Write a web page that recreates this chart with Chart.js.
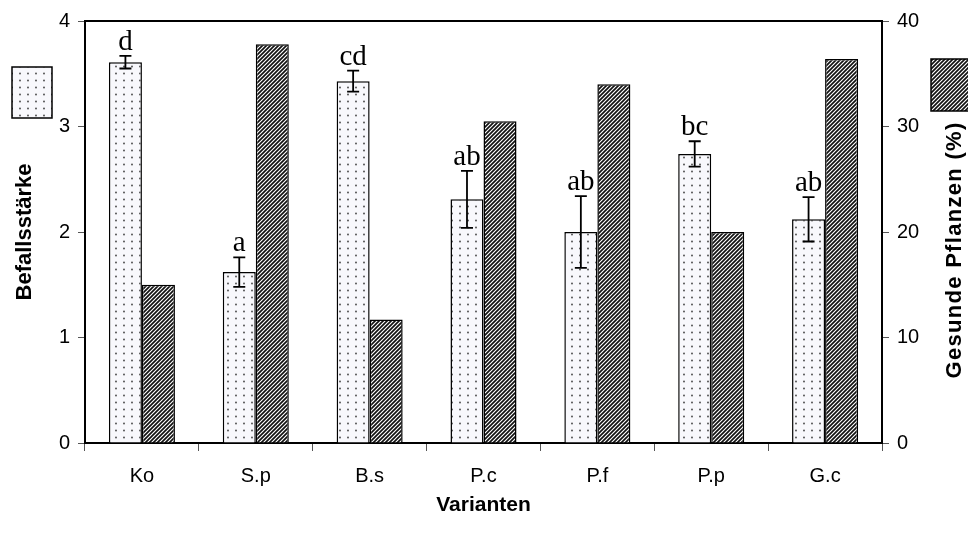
<!DOCTYPE html>
<html>
<head>
<meta charset="utf-8">
<script src="https://cdn.jsdelivr.net/npm/chart.js@4.4.0/dist/chart.umd.min.js"></script>
<style>
html, body { margin: 0; padding: 0; background: #fff; }
</style>
</head>
<body>
<canvas id="chartVarianten" width="968" height="544"></canvas>
<script>
// Werte
const varianten = ['Ko', 'S.p', 'B.s', 'P.c', 'P.f', 'P.p', 'G.c'];
const befallsstaerke = [3.61, 1.62, 3.43, 2.31, 2.00, 2.74, 2.12];
const befallsFehler = [0.06, 0.14, 0.10, 0.27, 0.34, 0.12, 0.21];
const gesundePflanzen = [15.0, 37.8, 11.7, 30.5, 34.0, 20.0, 36.4];
const buchstaben = ['d', 'a', 'cd', 'ab', 'ab', 'bc', 'ab'];

const schrift = "'Liberation Sans', Arial, sans-serif";

function musterPunkte() {
    const c = document.createElement('canvas');
    c.width = 8; c.height = 7;
    const g = c.getContext('2d');
    g.fillStyle = '#f8f8fc';
    g.fillRect(0, 0, 8, 7);
    g.fillStyle = '#444';
    g.beginPath();
    g.arc(4, 3.5, 0.9, 0, Math.PI * 2);
    g.fill();
    return g.createPattern(c, 'repeat');
}

function musterSchraffur() {
    const n = 4;
    const c = document.createElement('canvas');
    c.width = n; c.height = n;
    const g = c.getContext('2d');
    g.fillStyle = '#fff';
    g.fillRect(0, 0, n, n);
    g.strokeStyle = '#111';
    g.lineWidth = 1.7;
    g.beginPath();
    g.moveTo(-1, n + 1); g.lineTo(n + 1, -1);
    g.moveTo(-1, 1); g.lineTo(1, -1);
    g.moveTo(n - 1, n + 1); g.lineTo(n + 1, n - 1);
    g.stroke();
    return g.createPattern(c, 'repeat');
}

const punkte = musterPunkte();
const schraffur = musterSchraffur();

const zusatz = {
    id: 'zusatz',
    beforeDatasetsDraw(chart) {
        const ctx = chart.ctx;
        const meta = chart.getDatasetMeta(0);
        const y = chart.scales.y;
        ctx.save();
        ctx.font = "29px 'Liberation Serif', 'Times New Roman', serif";
        ctx.fillStyle = '#000';
        ctx.textAlign = 'center';
        ctx.textBaseline = 'alphabetic';
        buchstaben.forEach((b, i) => {
            const top = y.getPixelForValue(befallsstaerke[i] + befallsFehler[i]);
            ctx.fillText(b, meta.data[i].x, top - 6);
        });
        ctx.restore();
    },
    afterDatasetsDraw(chart) {
        const ctx = chart.ctx;
        const meta = chart.getDatasetMeta(0);
        const y = chart.scales.y;
        ctx.save();
        ctx.strokeStyle = '#000';
        ctx.lineWidth = 1.8;
        befallsstaerke.forEach((v, i) => {
            const x = meta.data[i].x;
            const y1 = y.getPixelForValue(v + befallsFehler[i]);
            const y2 = y.getPixelForValue(v - befallsFehler[i]);
            ctx.beginPath();
            ctx.moveTo(x, y1); ctx.lineTo(x, y2);
            ctx.moveTo(x - 6, y1); ctx.lineTo(x + 6, y1);
            ctx.moveTo(x - 6, y2); ctx.lineTo(x + 6, y2);
            ctx.stroke();
        });
        ctx.restore();
    },
    afterDraw(chart) {
        const ctx = chart.ctx;
        const a = chart.chartArea;
        ctx.save();
        // oberer Rahmen
        ctx.strokeStyle = '#000';
        ctx.lineWidth = 2;
        ctx.beginPath();
        ctx.moveTo(a.left - 1, a.top);
        ctx.lineTo(a.right + 1, a.top);
        ctx.stroke();

        // Legendenkästchen
        ctx.lineWidth = 1.5;
        ctx.fillStyle = punkte;
        ctx.fillRect(12, 67, 40, 51);
        ctx.strokeRect(12, 67, 40, 51);
        ctx.fillStyle = schraffur;
        ctx.fillRect(931, 59, 45, 52);
        ctx.strokeRect(931, 59, 45, 52);

        // rechte Achsenbeschriftung
        ctx.translate(955, 250);
        ctx.rotate(-Math.PI / 2);
        ctx.font = 'bold 22px ' + schrift;
        ctx.fillStyle = '#000';
        ctx.textAlign = 'center';
        ctx.textBaseline = 'middle';
        ctx.letterSpacing = '1.3px';
        ctx.fillText('Gesunde Pflanzen (%)', 0, 0);
        ctx.restore();
    }
};

const data = {
    labels: varianten,
    datasets: [{
        label: 'Befallsstärke',
        data: befallsstaerke,
        yAxisID: 'y',
        backgroundColor: punkte,
        borderColor: '#000',
        borderWidth: 1.5,
        barPercentage: 1,
        categoryPercentage: 0.58
    }, {
        label: 'Gesunde Pflanzen (%)',
        data: gesundePflanzen,
        yAxisID: 'y1',
        backgroundColor: schraffur,
        borderColor: '#000',
        borderWidth: 1.5,
        barPercentage: 1,
        categoryPercentage: 0.58
    }]
};

const config = {
    type: 'bar',
    data: data,
    options: {
        responsive: false,
        animation: false,
        devicePixelRatio: 1,
        layout: { padding: { top: 21, left: 0, right: 0, bottom: 0 } },
        plugins: {
            legend: { display: false },
            tooltip: { enabled: false }
        },
        scales: {
            x: {
                grid: { drawOnChartArea: false, tickLength: 8, color: '#555', lineWidth: 1, offset: true },
                border: { color: '#000', width: 2 },
                ticks: { color: '#000', font: { family: schrift, size: 20 }, padding: 13 },
                title: {
                    display: true, text: 'Varianten', color: '#000',
                    font: { family: schrift, size: 21, weight: 'bold' },
                    padding: { top: 0, bottom: 26 }
                },
                afterFit: (s) => { s.height = 101; }
            },
            y: {
                position: 'left',
                min: 0, max: 4,
                grid: { drawOnChartArea: false, tickLength: 7, color: '#555', lineWidth: 1 },
                border: { color: '#000', width: 2 },
                ticks: { stepSize: 1, color: '#000', font: { family: schrift, size: 20 }, padding: 8 },
                title: {
                    display: true, text: 'Befallsstärke', color: '#000',
                    font: { family: schrift, size: 22, weight: 'bold' },
                    padding: { top: 12, bottom: 0 }
                },
                afterFit: (s) => { s.width = 85; }
            },
            y1: {
                position: 'right',
                min: 0, max: 40,
                grid: { drawOnChartArea: false, tickLength: 7, color: '#555', lineWidth: 1 },
                border: { color: '#000', width: 2 },
                ticks: { stepSize: 10, color: '#000', font: { family: schrift, size: 20 }, padding: 8 },
                afterFit: (s) => { s.width = 86; }
            }
        }
    },
    plugins: [zusatz]
};

const canvasBalken = document.getElementById('chartVarianten');
const graficoBalken = new Chart(canvasBalken, config);
</script>
</body>
</html>
